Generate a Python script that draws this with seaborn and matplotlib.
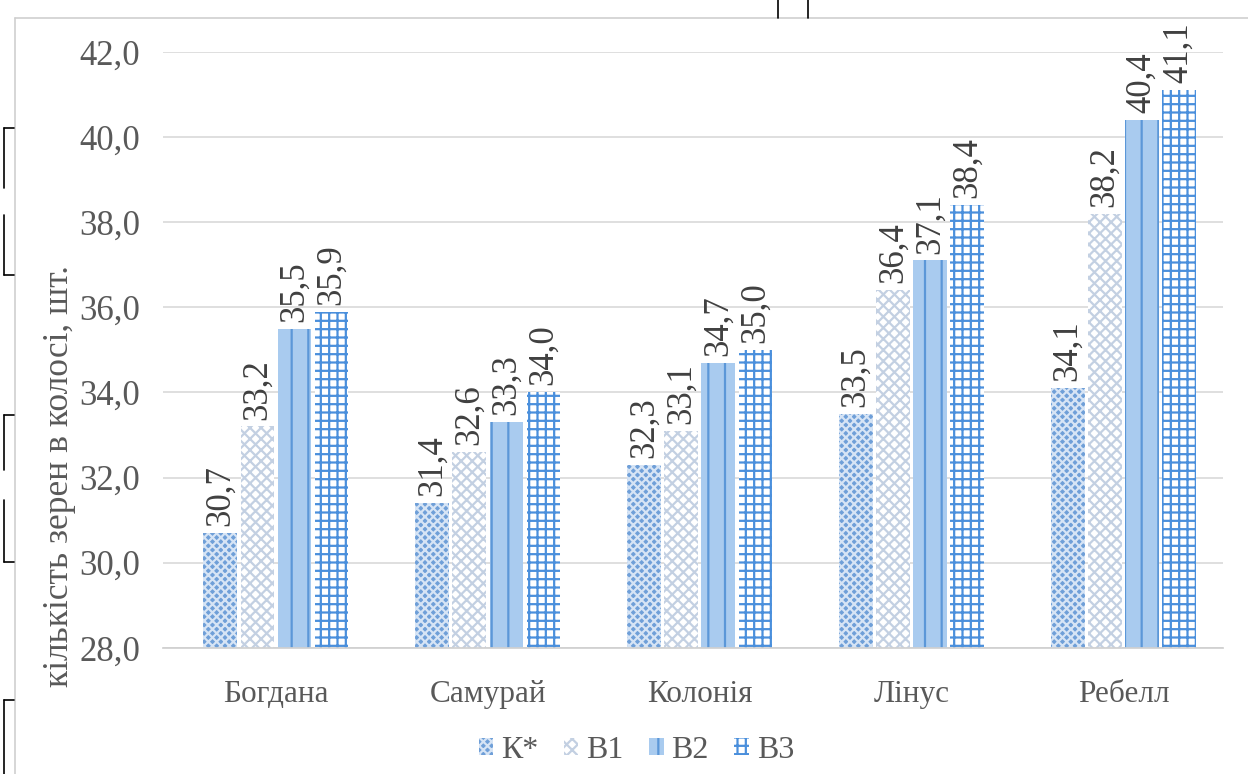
import matplotlib
matplotlib.use("Agg")
import matplotlib.pyplot as plt
from matplotlib.patches import Patch
from matplotlib.lines import Line2D
from matplotlib.ticker import FuncFormatter, MultipleLocator
import seaborn as sns
import pandas as pd

varieties = ["Богдана", "Самурай", "Колонія", "Лінус", "Ребелл"]
series_names = ["К*", "В1", "В2", "В3"]
k_vals = [30.7, 31.4, 32.3, 33.5, 34.1]
b1_vals = [33.2, 32.6, 33.1, 36.4, 38.2]
b2_vals = [35.5, 33.3, 34.7, 37.1, 40.4]
b3_vals = [35.9, 34.0, 35.0, 38.4, 41.1]
y_label = "кількість зерен в колосі, шт."

rows = []
for name, vals in zip(series_names, [k_vals, b1_vals, b2_vals, b3_vals]):
    for v, val in zip(varieties, vals):
        rows.append({"variety": v, "series": name, "value": val})
df = pd.DataFrame(rows)

sns.set_theme(style="white")
plt.rcParams["font.family"] = "serif"
plt.rcParams["font.serif"] = ["Liberation Serif", "DejaVu Serif"]
plt.rcParams["hatch.linewidth"] = 1.6

styles = {
    "К*": dict(face="#6f9fd8", edge="#d6e4f5", hatch="xxxx"),
    "В1": dict(face="#ffffff", edge="#c3d0e2", hatch="xxx"),
    "В2": dict(face="#a9cbef", edge="#5b97d8", hatch="|"),
    "В3": dict(face="#ffffff", edge="#4a8fdc", hatch="++"),
}

fig = plt.figure(figsize=(12.48, 7.74), dpi=100)
ax = fig.add_axes([0.131, 0.163, 0.849, 0.770])

sns.barplot(data=df, x="variety", y="value", hue="series", order=varieties,
            hue_order=series_names, width=0.7, gap=0.1, ax=ax, legend=False)

for name, cont in zip(series_names, ax.containers):
    st = styles[name]
    for bar in cont:
        bar.set_facecolor(st["face"])
        bar.set_edgecolor(st["edge"])
        bar.set_hatch(st["hatch"])
        bar.set_linewidth(0)
    ax.bar_label(cont, labels=[f"{b.get_height():.1f}".replace(".", ",") for b in cont],
                 rotation=90, padding=5, fontsize=25, color="#404040")

ax.set_ylim(28, 42)
ax.set_xlim(-0.53, 4.47)
ax.yaxis.set_major_locator(MultipleLocator(2))
ax.yaxis.set_major_formatter(FuncFormatter(lambda v, p: f"{v:.1f}".replace(".", ",")))
ax.grid(axis="y", color="#d9d9d9", linewidth=1.2)
ax.set_axisbelow(True)
for s in ["top", "right", "left"]:
    ax.spines[s].set_visible(False)
ax.spines["bottom"].set_color("#d0d0d0")
ax.tick_params(axis="y", labelsize=25, labelcolor="#595959", length=0, pad=17)
ax.tick_params(axis="x", labelsize=22.5, labelcolor="#595959", length=0, pad=23)
ax.set_xlabel("")
ax.set_ylabel(y_label, fontsize=25.5, color="#595959")
ax.yaxis.set_label_coords(-0.083, 0.289)

handles = [Patch(facecolor=styles[n]["face"], edgecolor=styles[n]["edge"],
                 hatch=styles[n]["hatch"], linewidth=0) for n in series_names]
fig.legend(handles, series_names, loc="center", bbox_to_anchor=(0.51, 0.031),
           ncol=4, frameon=False, fontsize=23, handlelength=0.45, handleheight=0.45,
           handletextpad=0.25, columnspacing=0.8, labelcolor="#595959")

# chart-area border and page marks
frame = [
    ((15 / 1248, 15 / 1248), (0, 1 - 18 / 774)),
    ((15 / 1248, 1), (1 - 18 / 774, 1 - 18 / 774)),
]
for xs, ys in frame:
    fig.add_artist(Line2D(xs, ys, color="#cfcfcf", linewidth=1.2))
for x in (778, 808):
    fig.add_artist(Line2D((x / 1248, x / 1248), (1, 1 - 18 / 774), color="black", linewidth=1.2))
brackets = [(128, 188, "top"), (215, 275, "bottom"), (415, 470, "top"),
            (500, 562, "bottom"), (700, 774, "top")]
for y0, y1, hook in brackets:
    fig.add_artist(Line2D((4 / 1248, 4 / 1248), (1 - y0 / 774, 1 - y1 / 774), color="black", linewidth=1.2))
    yh = y0 if hook == "top" else y1
    fig.add_artist(Line2D((4 / 1248, 14 / 1248), (1 - yh / 774, 1 - yh / 774), color="black", linewidth=1.2))

fig.savefig("out.png", dpi=100)
